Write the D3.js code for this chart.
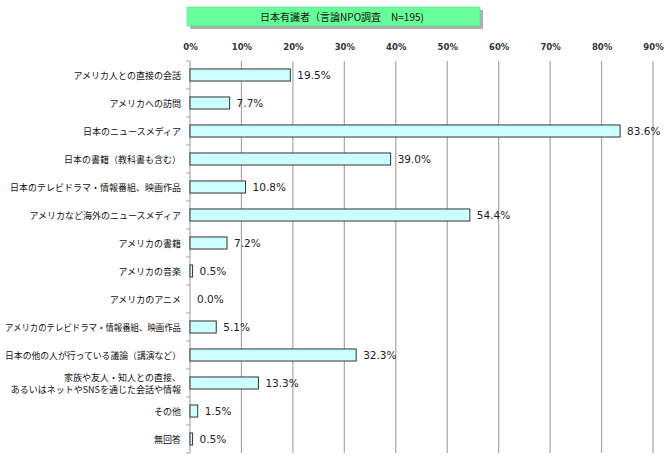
<!DOCTYPE html>
<html>
<head>
<meta charset="utf-8">
<script src="https://cdn.jsdelivr.net/npm/d3@7"></script>
<style>
  body { margin: 0; background: #fff; }
  svg { display: block; }
</style>
</head>
<body>
<svg id="chart" width="670" height="465"></svg>
<script>
const categories = [
  "アメリカ人との直接の会話",
  "アメリカへの訪問",
  "日本のニュースメディア",
  "日本の書籍（教科書も含む）",
  "日本のテレビドラマ・情報番組、映画作品",
  "アメリカなど海外のニュースメディア",
  "アメリカの書籍",
  "アメリカの音楽",
  "アメリカのアニメ",
  "アメリカのテレビドラマ・情報番組、映画作品",
  "日本の他の人が行っている議論（講演など）",
  "家族や友人・知人との直接、\nあるいはネットやSNSを通じた会話や情報",
  "その他",
  "無回答"
];
const values = [19.5, 7.7, 83.6, 39.0, 10.8, 54.4, 7.2, 0.5, 0.0, 5.1, 32.3, 13.3, 1.5, 0.5];
const xTicks = [0, 10, 20, 30, 40, 50, 60, 70, 80, 90];
const title = "日本有識者（言論NPO調査　N=195)";

const margin = {top: 61, right: 17, bottom: 12, left: 190};
const width = 670, height = 465;
const svg = d3.select("#chart");

const x = d3.scaleLinear().domain([0, 90]).range([margin.left, width - margin.right]);
const y = d3.scaleBand().domain(categories)
  .range([margin.top, height - margin.bottom])
  .paddingInner(0.57).paddingOuter(0.285);

// title box
const tb = svg.append("g");
tb.append("rect").attr("x", 190).attr("y", 10).attr("width", 293).attr("height", 19)
  .attr("fill", "#b0b0b0");
tb.append("rect").attr("x", 187).attr("y", 7).attr("width", 293).attr("height", 19)
  .attr("fill", "#66ff99").attr("stroke", "#4fd67c").attr("stroke-width", 0.5);
tb.append("text").attr("x", 342).attr("y", 20.5)
  .attr("text-anchor", "middle")
  .style("font-family", "'Noto Sans CJK JP', sans-serif")
  .style("font-size", "10px").attr("fill", "#111")
  .text(title);

// grid
svg.append("g").selectAll("line").data(xTicks).join("line")
  .attr("x1", d => x(d)).attr("x2", d => x(d))
  .attr("y1", margin.top).attr("y2", height - margin.bottom)
  .attr("stroke", "#a6a6a6").attr("stroke-width", 1.2);

// top axis labels
const xAxis = d3.axisTop(x).tickValues(xTicks).tickSize(0).tickPadding(0)
  .tickFormat(d => d + "%");
svg.append("g").attr("transform", `translate(0,${margin.top - 11})`).call(xAxis)
  .call(g => g.select(".domain").remove())
  .call(g => g.selectAll("text")
    .style("font-family", "'DejaVu Sans', sans-serif")
    .style("font-size", "8.5px").style("font-weight", "bold").attr("fill", "#333"));

// left category ticks
const offset = y.step() * y.paddingInner() / 2;
const bounds = categories.map(c => y(c) - offset).concat([y(categories[categories.length - 1]) + y.bandwidth() + offset]);
svg.append("g").selectAll("line").data(bounds).join("line")
  .attr("x1", margin.left - 4).attr("x2", margin.left)
  .attr("y1", d => d).attr("y2", d => d)
  .attr("stroke", "#a6a6a6").attr("stroke-width", 1);

// bars
svg.append("g").selectAll("rect").data(values).join("rect")
  .attr("x", x(0))
  .attr("y", (d, i) => y(categories[i]))
  .attr("width", d => x(d) - x(0))
  .attr("height", y.bandwidth())
  .attr("fill", "#ccffff")
  .attr("stroke", d => d > 0 ? "#333" : "none")
  .attr("stroke-width", 1);

// value labels
svg.append("g").selectAll("text").data(values).join("text")
  .attr("x", d => x(d) + 7)
  .attr("y", (d, i) => y(categories[i]) + y.bandwidth() / 2 + 4)
  .style("font-family", "'DejaVu Sans', sans-serif")
  .style("font-size", "10.5px").attr("fill", "#222")
  .text(d => d.toFixed(1) + "%");

// category labels
const labels = svg.append("g").selectAll("text").data(categories).join("text")
  .attr("text-anchor", "end")
  .style("font-family", "'Noto Sans CJK JP', sans-serif")
  .style("font-size", "9px").attr("fill", "#111")
  .attr("transform", d => `translate(181,${y(d) + y.bandwidth() / 2})`);
labels.each(function(d) {
  const lines = d.split("\n");
  const t = d3.select(this);
  lines.forEach((ln, k) => {
    const ts = t.append("tspan").attr("x", 0)
      .attr("y", (k - (lines.length - 1) / 2) * 12 + 3.5)
      .text(ln);
    // squeeze lines that would run past the left edge
    if (ts.node().getComputedTextLength() > 176) {
      ts.attr("textLength", 176).attr("lengthAdjust", "spacingAndGlyphs");
    }
  });
});
</script>
</body>
</html>
